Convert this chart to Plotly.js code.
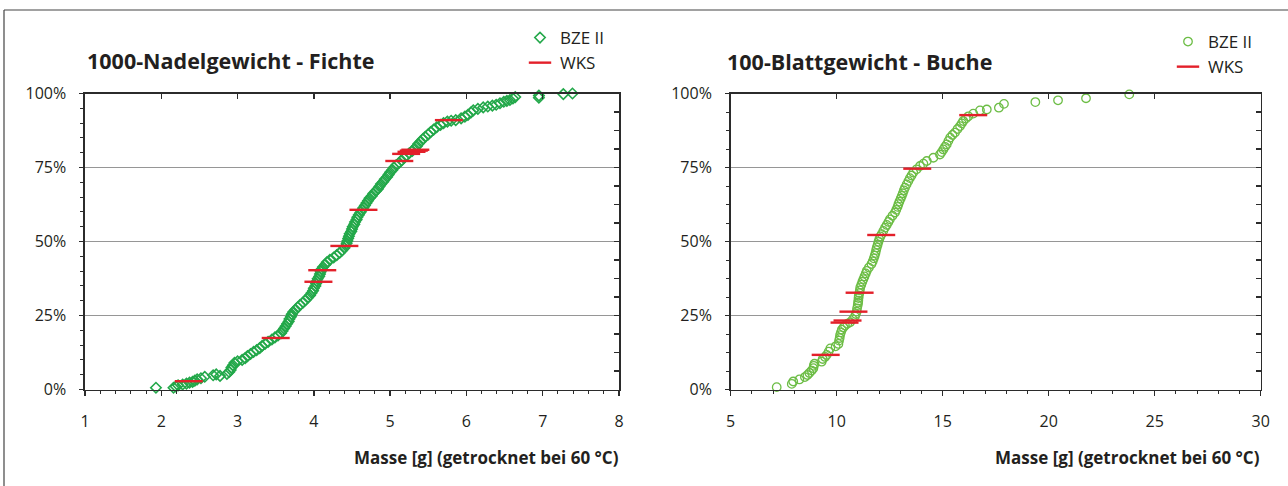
<!DOCTYPE html>
<html>
<head>
<meta charset="utf-8">
<script src="https://cdn.plot.ly/plotly-3.0.1.min.js"></script>
<style>
html,body{margin:0;padding:0;background:#fff;}
#chart{width:1288px;height:486px;}
</style>
</head>
<body>
<div id="chart"></div>
<script>
// ---- Data ----
// Left panel: 1000-Nadelgewicht - Fichte (BZE II, cumulative %)
var fichteBzeX = [1.93,2.16,2.19,2.22,2.28,2.33,2.37,2.41,2.44,2.47,2.52,2.57,2.68,2.72,2.77,2.86,2.89,2.91,2.92,2.94,
  2.96,3.00,3.06,3.10,3.13,3.17,3.21,3.25,3.29,3.32,3.36,3.40,3.45,3.49,3.53,3.57,3.59,3.61,3.63,3.65,
  3.67,3.68,3.70,3.71,3.73,3.76,3.79,3.82,3.86,3.89,3.92,3.95,3.97,3.99,4.00,4.02,4.03,4.04,4.05,4.07,
  4.08,4.09,4.10,4.12,4.15,4.17,4.21,4.26,4.30,4.34,4.37,4.40,4.42,4.43,4.44,4.45,4.46,4.47,4.49,4.50,
  4.51,4.53,4.54,4.56,4.57,4.59,4.61,4.63,4.65,4.67,4.69,4.71,4.73,4.76,4.78,4.81,4.84,4.86,4.88,4.91,
  4.93,4.96,4.98,5.00,5.03,5.05,5.08,5.12,5.15,5.18,5.21,5.25,5.29,5.32,5.35,5.37,5.40,5.43,5.46,5.50,
  5.53,5.57,5.61,5.66,5.70,5.75,5.80,5.86,5.93,5.98,6.02,6.06,6.09,6.15,6.22,6.28,6.34,6.39,6.44,6.49,
  6.53,6.57,6.61,6.64,6.95,6.95,7.27,7.39];
var fichteBzeY = [0.6,0.6,1.0,1.4,1.7,2.0,2.3,2.6,3.0,3.4,3.8,4.3,4.8,5.1,4.6,5.3,5.9,6.6,7.4,8.2,
  9.0,9.5,10.0,10.6,11.3,12.0,12.7,13.3,14.0,14.7,15.4,16.1,16.9,17.6,18.3,19.0,19.8,20.6,21.4,22.2,
  23.0,23.8,24.6,25.4,26.2,27.0,27.8,28.6,29.4,30.2,31.0,31.8,32.6,33.4,34.2,35.0,35.8,36.6,37.4,38.2,
  39.0,39.8,40.6,41.4,42.2,43.0,43.8,44.6,45.4,46.2,47.0,47.8,48.6,49.4,50.2,51.0,51.8,52.6,53.4,54.2,
  55.0,55.8,56.6,57.4,58.2,59.0,59.8,60.6,61.4,62.2,63.0,63.8,64.6,65.4,66.2,67.0,67.8,68.6,69.4,70.2,
  71.0,71.8,72.6,73.4,74.2,75.0,75.8,76.6,77.4,78.2,79.0,79.8,80.6,81.4,82.2,83.0,83.8,84.6,85.4,86.2,
  87.0,87.8,88.6,89.4,90.0,90.5,90.8,91.0,91.6,92.2,92.8,93.6,94.3,94.8,95.3,95.6,95.9,96.2,96.7,97.2,
  97.5,97.8,98.3,98.8,98.6,99.3,99.8,100.0];
// Left panel: WKS
var fichteWksX = [2.36,3.50,4.06,4.11,4.40,4.65,5.12,5.21,5.28,5.31,5.33,5.77];
var fichteWksY = [2.8,17.4,36.4,40.3,48.5,60.7,77.2,79.6,80.3,80.7,81.0,91.0];

// Right panel: 100-Blattgewicht - Buche (BZE II, cumulative %)
var bucheBzeX = [7.17,7.88,7.95,8.24,8.50,8.62,8.71,8.82,8.90,8.92,8.95,9.29,9.34,9.45,9.53,9.62,9.70,9.95,10.08,10.11,
  10.14,10.16,10.20,10.24,10.32,10.39,10.50,10.63,10.76,10.86,10.90,10.94,10.96,10.99,11.01,11.02,11.03,11.04,11.07,11.09,
  11.11,11.16,11.21,11.26,11.31,11.37,11.42,11.52,11.64,11.70,11.75,11.79,11.83,11.86,11.89,11.93,11.97,12.01,12.06,12.12,
  12.20,12.28,12.36,12.44,12.51,12.63,12.75,12.81,12.87,12.91,12.96,13.02,13.07,13.12,13.17,13.22,13.30,13.38,13.45,13.53,
  13.61,13.77,13.93,14.09,14.25,14.56,14.87,14.95,15.03,15.11,15.19,15.27,15.35,15.46,15.58,15.70,15.82,15.90,15.97,16.09,
  16.21,16.44,16.76,17.08,17.65,17.89,19.37,20.44,21.76,23.80];
var bucheBzeY = [0.8,1.9,2.7,3.4,4.2,4.9,5.6,6.4,7.2,8.0,8.7,9.4,10.3,11.0,11.7,12.8,13.9,14.6,15.4,16.5,
  17.4,18.4,19.3,20.2,21.0,21.6,22.2,22.7,23.7,24.7,25.5,26.3,27.4,28.5,29.3,30.0,30.9,31.7,32.6,33.5,
  34.5,35.4,36.4,37.3,38.2,39.2,40.1,41.2,42.4,43.3,44.3,45.2,46.1,47.1,48.0,48.9,49.9,50.8,51.7,52.5,
  53.6,54.7,55.6,56.6,57.5,58.7,59.8,60.7,61.7,62.6,63.5,64.5,65.4,66.3,67.3,68.2,69.3,70.4,71.4,72.3,
  73.3,74.4,75.5,76.3,77.2,78.3,79.4,80.2,81.1,82.0,82.8,84.0,85.1,86.0,86.8,88.0,89.0,89.9,90.7,91.5,
  92.3,93.2,94.3,94.6,95.2,96.5,97.1,97.7,98.4,99.7];
// Right panel: WKS
var bucheWksX = [9.48,10.37,10.51,10.79,11.08,12.10,13.80,16.44];
var bucheWksY = [11.7,22.6,23.3,26.3,32.7,52.2,74.6,92.7];

var seriesNames = ['BZE II', 'WKS'];
var panelTitles = ['1000-Nadelgewicht - Fichte', '100-Blattgewicht - Buche'];
var xTitle = 'Masse [g] (getrocknet bei 60 °C)';

// ---- Styling ----
var W = 1288, H = 486;
var FONT = 'Open Sans, Noto Sans, sans-serif';
var TXT = '#231f20';
var AX = '#2b2b2b';
var GREEN1 = '#23a84a';
var GREEN2 = '#6cbd45';
var RED = '#e3202a';
function px(x){ return x / W; }
function py(y){ return 1 - y / H; }

var yDom = [py(389.5), py(93.5)];
var xDom1 = [px(85), px(619)];
var xDom2 = [px(730.7), px(1260.7)];

var traces = [
  {x: fichteBzeX, y: fichteBzeY, xaxis: 'x', yaxis: 'y', type: 'scatter', mode: 'markers', name: seriesNames[0],
   legend: 'legend', legendgroup: 'a1', cliponaxis: false,
   marker: {symbol: 'diamond-open', size: 8, color: GREEN1, line: {width: 1.6, color: GREEN1}}},
  {x: fichteWksX, y: fichteWksY, xaxis: 'x', yaxis: 'y', type: 'scatter', mode: 'markers', name: seriesNames[1],
   legend: 'legend', legendgroup: 'a2', cliponaxis: false,
   marker: {symbol: 'line-ew', size: 20, color: RED, line: {width: 2.4, color: RED}}},
  {x: bucheBzeX, y: bucheBzeY, xaxis: 'x2', yaxis: 'y2', type: 'scatter', mode: 'markers', name: seriesNames[0],
   legend: 'legend2', legendgroup: 'b1', cliponaxis: false,
   marker: {symbol: 'circle-open', size: 8.5, color: GREEN2, line: {width: 1.3, color: GREEN2}}},
  {x: bucheWksX, y: bucheWksY, xaxis: 'x2', yaxis: 'y2', type: 'scatter', mode: 'markers', name: seriesNames[1],
   legend: 'legend2', legendgroup: 'b2', cliponaxis: false,
   marker: {symbol: 'line-ew', size: 20, color: RED, line: {width: 2.4, color: RED}}},
  // empty traces so that the mirrored (inside-tick) axes are drawn
  {x: [], y: [], xaxis: 'x3', yaxis: 'y', type: 'scatter', showlegend: false, hoverinfo: 'skip'},
  {x: [], y: [], xaxis: 'x', yaxis: 'y3', type: 'scatter', showlegend: false, hoverinfo: 'skip'},
  {x: [], y: [], xaxis: 'x4', yaxis: 'y2', type: 'scatter', showlegend: false, hoverinfo: 'skip'},
  {x: [], y: [], xaxis: 'x2', yaxis: 'y4', type: 'scatter', showlegend: false, hoverinfo: 'skip'}
];

function baseX(dom, range, dtick, minor, anchor){
  return {domain: dom, range: range, dtick: dtick, tick0: range[0], anchor: anchor,
    ticks: 'outside', ticklen: 5, tickwidth: 1.3, tickcolor: AX,
    showline: true, linecolor: AX, linewidth: 1.6, mirror: true,
    showgrid: false, zeroline: false, fixedrange: true,
    ticklabelstandoff: 12,
    tickfont: {family: FONT, size: 16, color: TXT},
    minor: {dtick: minor, ticks: 'outside', ticklen: 3, tickwidth: 1, tickcolor: AX, showgrid: false}};
}
function baseY(dom, minor, anchor){
  return {domain: dom, range: [0, 100], dtick: 25, tick0: 0, anchor: anchor, ticksuffix: '%',
    ticks: 'outside', ticklen: 4, tickwidth: 1.3, tickcolor: AX,
    showline: true, linecolor: AX, linewidth: 1.6, mirror: true,
    showgrid: true, gridcolor: '#969696', gridwidth: 1.5, zeroline: false, fixedrange: true,
    ticklabelstandoff: 10,
    tickfont: {family: FONT, size: 16, color: TXT},
    minor: {dtick: minor, ticks: 'outside', ticklen: 3, tickwidth: 1, tickcolor: AX, showgrid: false}};
}
function topX(range, dtick, over, anchor){
  return {overlaying: over, side: 'top', anchor: anchor, range: range, dtick: dtick, tick0: range[0],
    ticks: 'inside', ticklen: 5, tickwidth: 1.3, tickcolor: AX, showticklabels: false,
    showline: false, showgrid: false, zeroline: false, fixedrange: true};
}
function rightY(over, anchor){
  return {overlaying: over, side: 'right', anchor: anchor, range: [0, 100], dtick: 6.25, tick0: 0,
    ticks: 'inside', ticklen: 5, tickwidth: 1.2, tickcolor: AX, showticklabels: false,
    showline: false, showgrid: false, zeroline: false, fixedrange: true};
}

var legendBase = {orientation: 'v', traceorder: 'grouped', tracegroupgap: 0,
  bgcolor: 'rgba(0,0,0,0)', borderwidth: 0, xanchor: 'left', yanchor: 'top',
  font: {family: FONT, size: 17, color: TXT}, itemclick: false, itemdoubleclick: false};

var layout = {
  width: W, height: H,
  margin: {l: 0, r: 0, t: 0, b: 0},
  paper_bgcolor: '#fff', plot_bgcolor: '#fff',
  showlegend: true,
  font: {family: FONT, color: TXT},
  xaxis: baseX(xDom1, [1, 8], 1, 0.2, 'y'),
  yaxis: baseY(yDom, 5, 'x'),
  xaxis2: baseX(xDom2, [5, 30], 5, 1, 'y2'),
  yaxis2: baseY(yDom, 6.25, 'x2'),
  xaxis3: topX([1, 8], 1, 'x', 'y'),
  yaxis3: rightY('y', 'x'),
  xaxis4: topX([5, 30], 5, 'x2', 'y2'),
  yaxis4: rightY('y2', 'x2'),
  legend: Object.assign({}, legendBase, {x: px(520), y: py(20)}),
  legend2: Object.assign({}, legendBase, {x: px(1168), y: py(24)}),
  annotations: [
    {text: '<b>' + panelTitles[0] + '</b>', xref: 'paper', yref: 'paper', x: px(85), y: py(60),
     xanchor: 'left', yanchor: 'middle', showarrow: false, font: {family: FONT, size: 21.5, color: TXT}},
    {text: '<b>' + panelTitles[1] + '</b>', xref: 'paper', yref: 'paper', x: px(725), y: py(62),
     xanchor: 'left', yanchor: 'middle', showarrow: false, font: {family: FONT, size: 21.5, color: TXT}},
    {text: '<b>' + xTitle + '</b>', xref: 'paper', yref: 'paper', x: px(621), y: py(457),
     xanchor: 'right', yanchor: 'middle', showarrow: false, font: {family: FONT, size: 17, color: TXT}},
    {text: '<b>' + xTitle + '</b>', xref: 'paper', yref: 'paper', x: px(1262), y: py(457),
     xanchor: 'right', yanchor: 'middle', showarrow: false, font: {family: FONT, size: 17, color: TXT}}
  ],
  shapes: [
    {type: 'line', xref: 'paper', yref: 'paper', x0: px(4), x1: 1, y0: py(10), y1: py(10), line: {color: '#444', width: 1.2}},
    {type: 'line', xref: 'paper', yref: 'paper', x0: px(4), x1: px(4), y0: py(10), y1: 0, line: {color: '#444', width: 1.2}}
  ]
};

Plotly.newPlot('chart', traces, layout, {displayModeBar: false, staticPlot: true});
</script>
</body>
</html>
